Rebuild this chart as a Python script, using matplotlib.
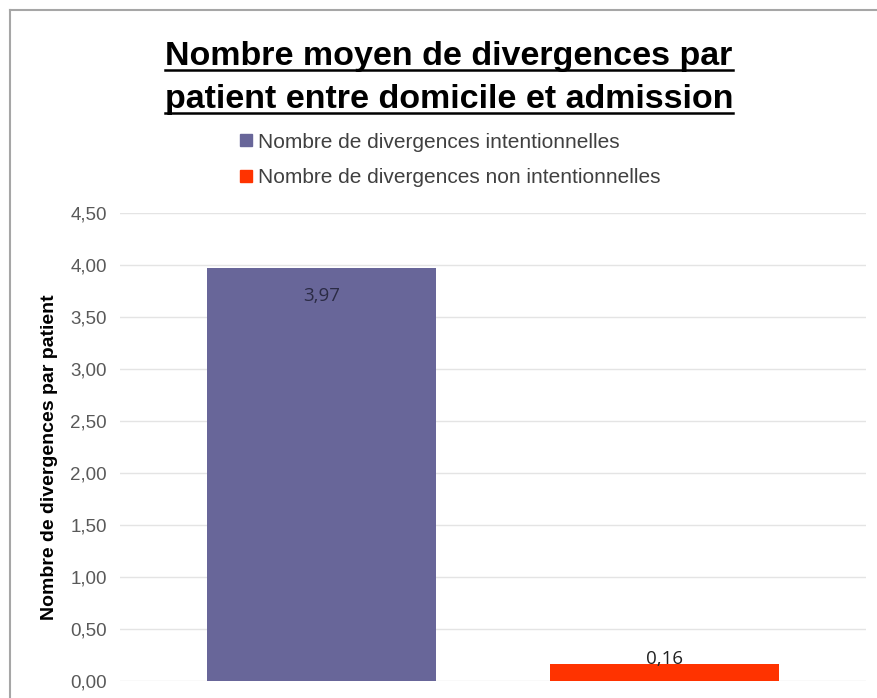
import numpy as np
import matplotlib.pyplot as plt
from matplotlib.lines import Line2D

# data
series = ["Nombre de divergences intentionnelles",
          "Nombre de divergences non intentionnelles"]
values = [3.97, 0.16]
labels = ["3,97", "0,16"]
colors = ["#686699", "#FF3300"]
yticks = [0.0, 0.5, 1.0, 1.5, 2.0, 2.5, 3.0, 3.5, 4.0, 4.5]

plt.rcParams['font.family'] = ['Liberation Sans', 'DejaVu Sans']

W, H = 877, 698
fig = plt.figure(figsize=(W / 100, H / 100), dpi=100)
ax = fig.add_axes([120/W, 1 - 681/H, 746/W, (681 - 213)/H])

x = np.arange(len(values))
bars = ax.bar(x, values, width=0.668, color=colors, zorder=2)

ax.set_xlim(-0.586, 1.586)
ax.set_ylim(0, 4.5)
ax.set_yticks(yticks)
ax.set_yticklabels([f"{v:.2f}".replace(".", ",") for v in yticks],
                   fontsize=13.5, color="#595959")
ax.set_xticks([])
ax.tick_params(axis='y', length=0, pad=9.4)
for s in ax.spines.values():
    s.set_visible(False)
ax.yaxis.grid(True, color="#E4E4E4", linewidth=1, zorder=0)
ax.set_axisbelow(True)

ax.set_ylabel("Nombre de divergences par patient", fontsize=14,
              fontweight="bold", color="black")
ax.yaxis.set_label_coords(-0.083, 0.479)

# data labels
ax.text(x[0], values[0] - 0.27, labels[0], ha="center", va="center",
        fontsize=13.5, color="#2B2B45", family="Open Sans")
ax.text(x[1], values[1] + 0.05, labels[1], ha="center", va="center",
        fontsize=13.5, color="#222222", family="Open Sans")

# legend
handles = [Line2D([], [], marker="s", linestyle="", markersize=8.6,
                  color=c) for c in colors]
leg = fig.legend(handles, series, loc="center left",
                 bbox_to_anchor=(240/W, 1 - 160/H), borderpad=0,
                 borderaxespad=0, frameon=False, ncol=1, fontsize=15,
                 labelspacing=0.8, handlelength=0.6, handletextpad=0.25,
                 labelcolor="#404040")

# title, underlined
t1 = fig.text(449/W, 1 - 65/H, "Nombre moyen de divergences par",
              ha="center", va="baseline", fontsize=24.5, fontweight="bold")
t2 = fig.text(449/W, 1 - 108/H, "patient entre domicile et admission",
              ha="center", va="baseline", fontsize=24.5, fontweight="bold")
fig.canvas.draw()
r = fig.canvas.get_renderer()
for t, base in ((t1, 65), (t2, 108)):
    bb = t.get_window_extent(r)
    yl = 1 - (base + 5) / H
    fig.add_artist(Line2D([bb.x0 / W, bb.x1 / W], [yl, yl],
                          color="black", linewidth=1.8, transform=fig.transFigure))

# outer frame (left and top edges visible)
fig.add_artist(Line2D([9.5/W, 9.5/W], [0, 1 - 10/H], color="#A6A6A6",
                      linewidth=1.5, transform=fig.transFigure))
fig.add_artist(Line2D([9.5/W, 1], [1 - 10/H, 1 - 10/H], color="#A6A6A6",
                      linewidth=1.5, transform=fig.transFigure))

fig.savefig("out.png", dpi=100)
